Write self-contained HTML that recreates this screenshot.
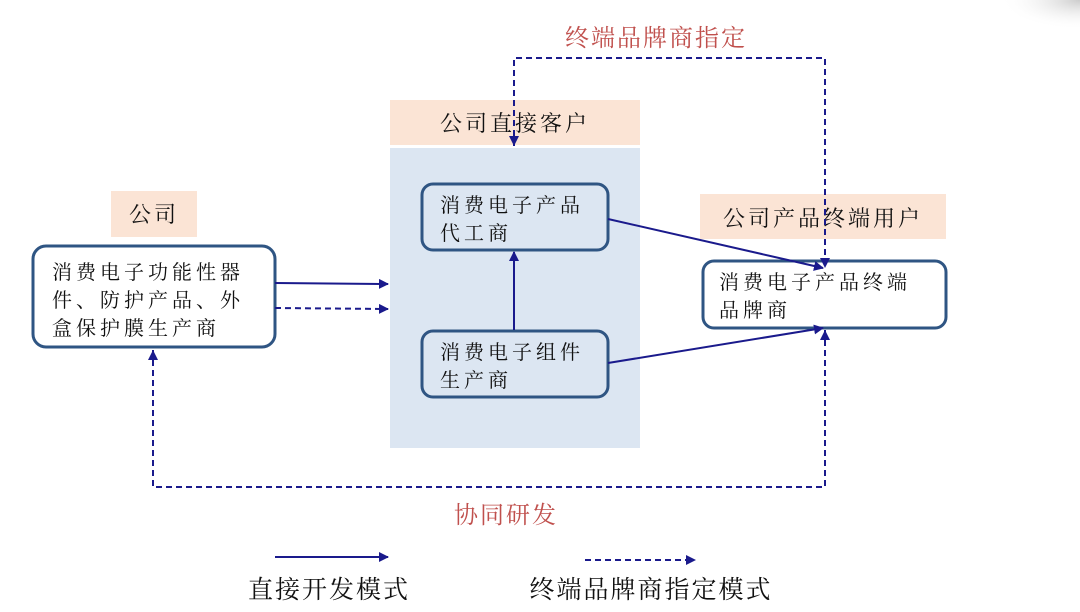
<!DOCTYPE html>
<html><head><meta charset="utf-8"><style>
html,body{margin:0;padding:0;background:#fff;}
svg{display:block;}
text{font-family:"Liberation Serif","Noto Serif CJK SC",serif;fill:#111;}
.r{fill:#c0504d;}
</style></head><body>
<svg width="1080" height="612" viewBox="0 0 1080 612" xmlns="http://www.w3.org/2000/svg">
<defs>
<marker id="a" markerWidth="10" markerHeight="10" refX="9" refY="5" orient="auto" markerUnits="userSpaceOnUse"><path d="M0,0 L10,5 L0,10 z" fill="#1a1a8c"/></marker>
<radialGradient id="g" cx="1" cy="0" r="1"><stop offset="0" stop-color="#ccc"/><stop offset="1" stop-color="#fff" stop-opacity="0"/></radialGradient>
</defs>
<rect x="1000" y="0" width="80" height="30" fill="url(#g)"/>
<rect x="390" y="100" width="250" height="45" fill="#fbe4d5"/>
<rect x="390" y="148" width="250" height="300" fill="#dce6f2"/>
<rect x="111" y="191" width="86" height="46" fill="#fbe4d5"/>
<rect x="700" y="194" width="246" height="45" fill="#fbe4d5"/>
<text x="515" y="131" font-size="22" text-anchor="middle" letter-spacing="3">公司直接客户</text>
<text x="154" y="222" font-size="22" text-anchor="middle" letter-spacing="3">公司</text>
<text x="823" y="226" font-size="22" text-anchor="middle" letter-spacing="3">公司产品终端用户</text>
<rect x="33" y="246" width="242" height="101" rx="13" fill="#fff" stroke="#2f5583" stroke-width="3"/>
<text font-size="20" letter-spacing="4"><tspan x="52" y="279">消费电子功能性器</tspan><tspan x="52" y="307">件、防护产品、外</tspan><tspan x="52" y="335">盒保护膜生产商</tspan></text>
<rect x="422" y="184" width="186" height="66" rx="11" fill="#dce6f2" stroke="#2f5583" stroke-width="3"/>
<text font-size="20" letter-spacing="4"><tspan x="440" y="212">消费电子产品</tspan><tspan x="440" y="240">代工商</tspan></text>
<rect x="422" y="331" width="186" height="66" rx="11" fill="#dce6f2" stroke="#2f5583" stroke-width="3"/>
<text font-size="20" letter-spacing="4"><tspan x="440" y="359">消费电子组件</tspan><tspan x="440" y="387">生产商</tspan></text>
<rect x="703" y="261" width="243" height="67" rx="11" fill="#fff" stroke="#2f5583" stroke-width="3"/>
<text font-size="20" letter-spacing="4"><tspan x="719" y="289">消费电子产品终端</tspan><tspan x="719" y="317">品牌商</tspan></text>
<g stroke="#1a1a8c" stroke-width="2" fill="none">
<line x1="275" y1="283" x2="388" y2="284" marker-end="url(#a)"/>
<line x1="514" y1="330" x2="514" y2="252" marker-end="url(#a)"/>
<line x1="608" y1="219" x2="823" y2="268" marker-end="url(#a)"/>
<line x1="608" y1="363" x2="823" y2="328" marker-end="url(#a)"/>
<line x1="275" y1="557" x2="388" y2="557" marker-end="url(#a)"/>
</g>
<g stroke="#1a1a8c" stroke-width="2" fill="none" stroke-dasharray="6,4">
<line x1="275" y1="308" x2="388" y2="309" marker-end="url(#a)"/>
<polyline points="514,146 514,58 825,58 825,268" />
<polyline points="825,330 825,487 153,487 153,350"/>
<line x1="585" y1="560" x2="695" y2="560" marker-end="url(#a)"/>
</g>
<path d="M509,136 L514,146 L519,136 z M820,258 L825,268 L830,258 z M820,340 L825,330 L830,340 z M148,360 L153,350 L158,360 z" fill="#1a1a8c"/>
<text x="656" y="46" font-size="24" class="r" text-anchor="middle" letter-spacing="2">终端品牌商指定</text>
<text x="506" y="523" font-size="24" class="r" text-anchor="middle" letter-spacing="2">协同研发</text>
<text x="329" y="598" font-size="25" text-anchor="middle" letter-spacing="2">直接开发模式</text>
<text x="651" y="598" font-size="25" text-anchor="middle" letter-spacing="2">终端品牌商指定模式</text>
</svg>
</body></html>
